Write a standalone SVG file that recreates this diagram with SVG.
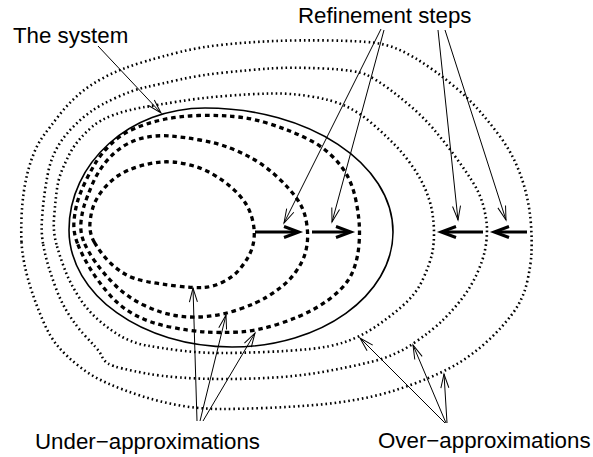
<svg xmlns="http://www.w3.org/2000/svg" xmlns:xlink="http://www.w3.org/1999/xlink" width="593" height="457" viewBox="0 0 593 457">
  <style>
    .lbl { font-family: "Liberation Sans", Arial, Helvetica, sans-serif; font-size: 22.3px; fill: #000; }
    .dot { fill: none; stroke: #000; stroke-width: 2.6; stroke-dasharray: 1.6 3; }
    .dash { fill: none; stroke: #000; stroke-width: 3.3; stroke-dasharray: 4.6 3.8; }
    .solid { fill: none; stroke: #000; stroke-width: 1.6; }
    .thin { fill: none; stroke: #000; stroke-width: 1; }
    .bold { fill: none; stroke: #000; stroke-width: 3; }
  </style>
  <defs>
    <marker id="vee" markerUnits="userSpaceOnUse" viewBox="-15 -6 17 12" refX="0" refY="0" markerWidth="17" markerHeight="12" orient="auto">
      <path d="M-14,-4 L0,0 L-14,4" fill="none" stroke="#000" stroke-width="1"/>
    </marker>
    <path id="boldhead" d="M-19,-5.5 L-4.2,0 L-19,5.5" fill="none" stroke="#000" stroke-width="3"/>
  </defs>
  <rect width="593" height="457" fill="#fff"/>

  <!-- over-approximations (dotted) -->
  <g id="over-3">
    <path class="dot" d="M21.5,242 Q21,232 21.5,218.5 Q22,205 23.5,194 Q25,183 27.5,173 Q30,163 34,153 Q38,143 44,135 Q50,127 58.5,116 Q67,105 77,96 Q87,87 98.5,80.5 Q110,74 121.5,69.5 Q133,65 146.5,61 Q160,57 180,52 Q200,47 225,44.5 Q250,42 275,41 Q300,40 330,40.5 Q360,41 372.5,42.5 Q385,44 395,48 Q405,52 415,58 Q425,64 436,72 Q447,80 458.5,90 Q470,100 480,111.5 Q490,123 500,136.5 Q510,150 516.5,165 Q523,180 526.5,195 Q530,210 531,225 Q532,240 531.5,252.5 Q531,265 527,282.5 Q523,300 511.5,315 Q500,330 486,342.5 Q472,355 457,364 Q442,373 416,383 Q390,393 365,398 Q340,403 315,405 Q290,407 265,408 Q240,409 220,409 Q200,409 180,405.5 Q160,402 141.5,396 Q123,390 108,383.5 Q93,377 80,367 Q67,357 58.5,347 Q50,337 43.5,322 Q37,307 32,292 Q27,277 24.5,264.5 Q22,252 21.5,242 Z"/>
  </g>
  <g id="over-2">
    <path class="dot" d="M43,243.5 Q41,232 42,218.5 Q43,205 44.5,194 Q46,183 48,173 Q50,163 53.5,155 Q57,147 62,140 Q67,133 74.5,125.5 Q82,118 91,111.5 Q100,105 116.5,97.5 Q133,90 146.5,87 Q160,84 180,79.5 Q200,75 225,72.5 Q250,70 270,68.5 Q290,67 323.5,68.5 Q357,70 367,75 Q377,80 388.5,88.5 Q400,97 411.5,107 Q423,117 433,128.5 Q443,140 453,153.5 Q463,167 471.5,180 Q480,193 483.5,206.5 Q487,220 487,230 Q487,240 485,250 Q483,260 477.5,272.5 Q472,285 463.5,296.5 Q455,308 444,319 Q433,330 414,343 Q395,356 372.5,361.5 Q350,367 325,371.5 Q300,376 275,377.5 Q250,379 225,379 Q200,379 180,377.5 Q160,376 146.5,373.5 Q133,371 122.5,368.5 Q112,366 108,363.5 Q104,361 102,356.5 Q100,352 95,346.5 Q90,341 83.5,334 Q77,327 69.5,315.5 Q62,304 57,291 Q52,278 48.5,266.5 Q45,255 43,243.5 Z"/>
  </g>
  <g id="over-1">
    <path class="dot" d="M56.5,244.5 Q53,232 54,218.5 Q55,205 56.5,192.5 Q58,180 61.5,171.5 Q65,163 69,155 Q73,147 79,140 Q85,133 92.5,126.5 Q100,120 113.5,115 Q127,110 142,107.5 Q157,105 178.5,101.5 Q200,98 225,96 Q250,94 270,93.5 Q290,93 311.5,96.5 Q333,100 346.5,106.5 Q360,113 371.5,123 Q383,133 393,143 Q403,153 411.5,165 Q420,177 425,188.5 Q430,200 432,211 Q434,222 434,233.5 Q434,245 432,254 Q430,263 423.5,278 Q417,293 403.5,305 Q390,317 375,327 Q360,337 345,342 Q330,347 310,349 Q290,351 265,352 Q240,353 220,353 Q200,353 180,350.5 Q160,348 146.5,345.5 Q133,343 121.5,336.5 Q110,330 98.5,320 Q87,310 78.5,296.5 Q70,283 65,270 Q60,257 56.5,244.5 Z"/>
  </g>

  <!-- the system (solid) -->
  <g id="system">
    <path class="solid" d="M69,230 C69,162.7 129.9,108 205,108 C308.8,108 393,163.6 393,232 C393,295.5 320.9,347 232,347 C142,347 69,294.6 69,230 Z"/>
  </g>

  <!-- under-approximations (dashed) -->
  <g id="under-3">
    <path class="dash" d="M77.5,243.5 Q73,232 74,221 Q75,210 77.5,201.5 Q80,193 85,182.5 Q90,172 95.5,163 Q101,154 110.5,144.5 Q120,135 133.5,129 Q147,123 163.5,119.5 Q180,116 198.5,115.5 Q217,115 233.5,116.5 Q250,118 263.5,122 Q277,126 288.5,130.5 Q300,135 311.5,141 Q323,147 333,157 Q343,167 348,177 Q353,187 355.5,198.5 Q358,210 359,221 Q360,232 359,244.5 Q358,257 354,268.5 Q350,280 340,290 Q330,300 315,308.5 Q300,317 278.5,324 Q257,331 238.5,332 Q220,333 205,332 Q190,331 170,327 Q150,323 135,315 Q120,307 108.5,293.5 Q97,280 89.5,267.5 Q82,255 77.5,243.5 Z"/>
  </g>
  <g id="under-2">
    <path class="dash" d="M83.5,241 Q80,232 81,222 Q82,212 84.5,204.5 Q87,197 92,185 Q97,173 105,163 Q113,153 123,146.5 Q133,140 145,137.5 Q157,135 170,136 Q183,137 200,140 Q217,143 230,148 Q243,153 254,159.5 Q265,166 274,174 Q283,182 290,190 Q297,198 301,205.5 Q305,213 306.5,222.5 Q308,232 307.5,240 Q307,248 304.5,255.5 Q302,263 296,271.5 Q290,280 282.5,286 Q275,292 266,297.5 Q257,303 240,309 Q223,315 206.5,316.5 Q190,318 175,315.5 Q160,313 143.5,305 Q127,297 115,285 Q103,273 95,261.5 Q87,250 83.5,241 Z"/>
  </g>
  <g id="under-1">
    <path class="dash" d="M94.5,242.5 Q89,233 90,222.5 Q91,212 94,204.5 Q97,197 103.5,189 Q110,181 118.5,175.5 Q127,170 138.5,166.5 Q150,163 161,162 Q172,161 186,164 Q200,167 211.5,173.5 Q223,180 231.5,187.5 Q240,195 245,202.5 Q250,210 252.5,220 Q255,230 254,239 Q253,248 249,255.5 Q245,263 239,270 Q233,277 223,282 Q213,287 203,287.5 Q193,288 176.5,286 Q160,284 146.5,281.5 Q133,279 124,273.5 Q115,268 107.5,260 Q100,252 94.5,242.5 Z"/>
  </g>

  <!-- labels -->
  <g id="label-system"><text class="lbl" x="13" y="43">The system</text></g>
  <g id="label-refinement"><text class="lbl" x="298" y="23">Refinement steps</text></g>
  <g id="label-under"><text class="lbl" x="35" y="449">Under−approximations</text></g>
  <g id="label-over"><text class="lbl" x="378" y="448">Over−approximations</text></g>

  <!-- connectors -->
  <g id="connectors">
    <g class="thin">
      <line x1="98" y1="46" x2="161" y2="113" marker-end="url(#vee)"/>
      <line x1="381" y1="29" x2="284" y2="223" marker-end="url(#vee)"/>
      <line x1="384" y1="30" x2="332" y2="222" marker-end="url(#vee)"/>
      <line x1="438" y1="30" x2="458" y2="220" marker-end="url(#vee)"/>
      <line x1="445" y1="30" x2="506" y2="220" marker-end="url(#vee)"/>
      <line x1="197" y1="421" x2="193" y2="288" marker-end="url(#vee)"/>
      <line x1="200" y1="421" x2="226" y2="315" marker-end="url(#vee)"/>
      <line x1="203" y1="421" x2="255" y2="333" marker-end="url(#vee)"/>
      <line x1="445" y1="423" x2="360" y2="338" marker-end="url(#vee)"/>
      <line x1="446" y1="423" x2="413" y2="345" marker-end="url(#vee)"/>
      <line x1="447" y1="423" x2="444" y2="374" marker-end="url(#vee)"/>
    </g>
    <g id="refine-steps">
      <line class="bold" x1="255" y1="232" x2="298" y2="232"/>
      <use xlink:href="#boldhead" transform="translate(303,232)"/>
      <line class="bold" x1="312" y1="232" x2="350" y2="232"/>
      <use xlink:href="#boldhead" transform="translate(355,232)"/>
      <line class="bold" x1="483" y1="232" x2="442" y2="232"/>
      <use xlink:href="#boldhead" transform="translate(437,232) rotate(180)"/>
      <line class="bold" x1="527" y1="232" x2="495" y2="232"/>
      <use xlink:href="#boldhead" transform="translate(490,232) rotate(180)"/>
    </g>
  </g>
</svg>
